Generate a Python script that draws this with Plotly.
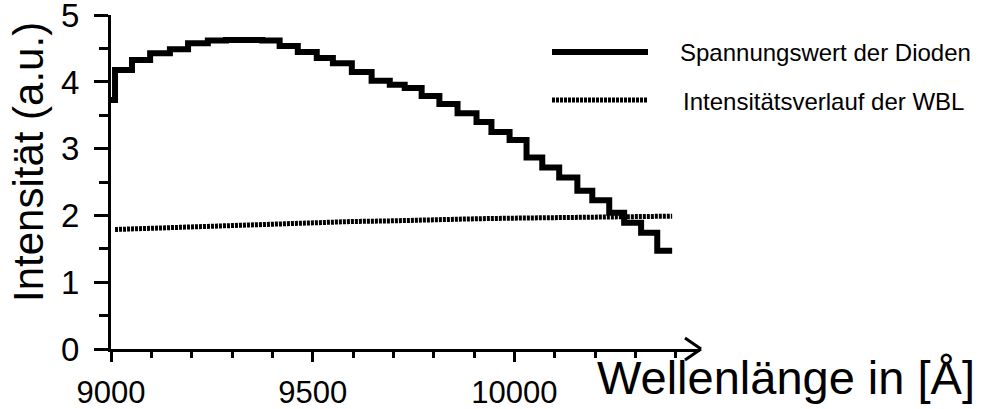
import plotly.graph_objects as go

# ---- data ----
step_edges = [9000, 9010, 9052, 9097, 9146, 9191, 9240, 9285, 9330, 9375, 9418, 9463,
              9510, 9550, 9597, 9646, 9691, 9728, 9770, 9814, 9859, 9906, 9943, 9988,
              10030, 10069, 10111, 10156, 10193, 10235, 10272, 10314, 10354, 10391]
step_values = [3.73, 4.18, 4.33, 4.43, 4.49, 4.58, 4.62, 4.63, 4.63, 4.62, 4.54, 4.45,
               4.36, 4.28, 4.15, 4.02, 3.96, 3.91, 3.79, 3.67, 3.53, 3.40, 3.25, 3.13,
               2.87, 2.72, 2.57, 2.37, 2.23, 2.04, 1.89, 1.74, 1.47]

wbl_x = [9010, 9100, 9200, 9300, 9400, 9500, 9600, 9700, 9800, 9900, 10000, 10100, 10200, 10300, 10391]
wbl_y = [1.79, 1.81, 1.83, 1.85, 1.87, 1.89, 1.91, 1.92, 1.94, 1.95, 1.96, 1.97, 1.98, 1.99, 1.99]

x_ticks = [9000, 9500, 10000]
x_tick_labels = ["9000", "9500", "10000"]
y_ticks = [0, 1, 2, 3, 4, 5]

series_names = ["Spannungswert der Dioden", "Intensitätsverlauf der WBL"]
x_title = "Wellenlänge in [Å]"
y_title = "Intensität (a.u.)"

# ---- layout geometry (pixels) ----
W, H = 986, 409
L, R_EDGE, TOP, BOT = 111, 700, 15, 349


def px(xp):
    return (xp - L) / (R_EDGE - L)


def py(yp):
    return (BOT - yp) / (BOT - TOP)


FONT = "Liberation Sans, Arial, Helvetica, sans-serif"
DOTS = "3px,1px"

fig = go.Figure()

# step curve: repeat final value to close the last step
fig.add_trace(go.Scatter(
    x=step_edges, y=step_values + [step_values[-1]],
    mode="lines", line=dict(shape="hv", color="black", width=6),
    name=series_names[0], showlegend=False))

fig.add_trace(go.Scatter(
    x=wbl_x, y=wbl_y, mode="lines",
    line=dict(color="black", width=5, dash=DOTS),
    name=series_names[1], showlegend=False))

shapes = []
# arrow head at the end of x axis
for dy in (-11, 11):
    shapes.append(dict(type="line", xref="paper", yref="paper",
                       x0=px(R_EDGE - 15), y0=py(BOT + dy), x1=px(R_EDGE + 1), y1=py(BOT),
                       line=dict(color="black", width=3)))
# legend samples
shapes.append(dict(type="line", xref="paper", yref="paper",
                   x0=px(552), x1=px(648), y0=py(52), y1=py(52),
                   line=dict(color="black", width=6)))
shapes.append(dict(type="line", xref="paper", yref="paper",
                   x0=px(552), x1=px(648), y0=py(100), y1=py(100),
                   line=dict(color="black", width=5, dash=DOTS)))

annotations = [
    dict(text=series_names[0], xref="paper", yref="paper", x=px(678), y=py(52),
         xanchor="left", yanchor="middle", showarrow=False,
         font=dict(family=FONT, size=24, color="black")),
    dict(text=series_names[1], xref="paper", yref="paper", x=px(681), y=py(101),
         xanchor="left", yanchor="middle", showarrow=False,
         font=dict(family=FONT, size=24, color="black")),
    dict(text=x_title, xref="paper", yref="paper", x=px(977), y=py(377),
         xanchor="right", yanchor="middle", showarrow=False,
         font=dict(family=FONT, size=47, color="black")),
    dict(text=y_title, xref="paper", yref="paper", x=px(28), y=py(162),
         xanchor="center", yanchor="middle", showarrow=False, textangle=-90,
         font=dict(family=FONT, size=42, color="black")),
]

fig.update_layout(
    width=W, height=H,
    margin=dict(l=L, r=W - R_EDGE, t=TOP, b=H - BOT, autoexpand=False),
    paper_bgcolor="white", plot_bgcolor="white",
    shapes=shapes, annotations=annotations,
    showlegend=False,
    xaxis=dict(range=[9000, 10460], tickvals=x_ticks, ticktext=x_tick_labels,
               automargin=False, ticklabeloverflow="allow",
               showgrid=False, zeroline=False, showline=True, linecolor="black", linewidth=3,
               ticks="outside", ticklen=10, tickwidth=3, tickcolor="black",
               minor=dict(dtick=100, tick0=9000, ticks="outside", ticklen=6, tickwidth=3,
                          tickcolor="black", showgrid=False),
               tickfont=dict(family=FONT, size=31, color="black"),
               ticklabelstandoff=4),
    yaxis=dict(range=[0, 5.003], tickvals=y_ticks,
               automargin=False, ticklabeloverflow="allow",
               showgrid=False, zeroline=False, showline=True, linecolor="black", linewidth=3,
               ticks="outside", ticklen=14, tickwidth=3, tickcolor="black",
               minor=dict(dtick=0.5, tick0=0, ticks="outside", ticklen=9, tickwidth=3,
                          tickcolor="black", showgrid=False),
               tickfont=dict(family=FONT, size=33, color="black"),
               ticklabelstandoff=8),
)

fig.write_html("out.html")
